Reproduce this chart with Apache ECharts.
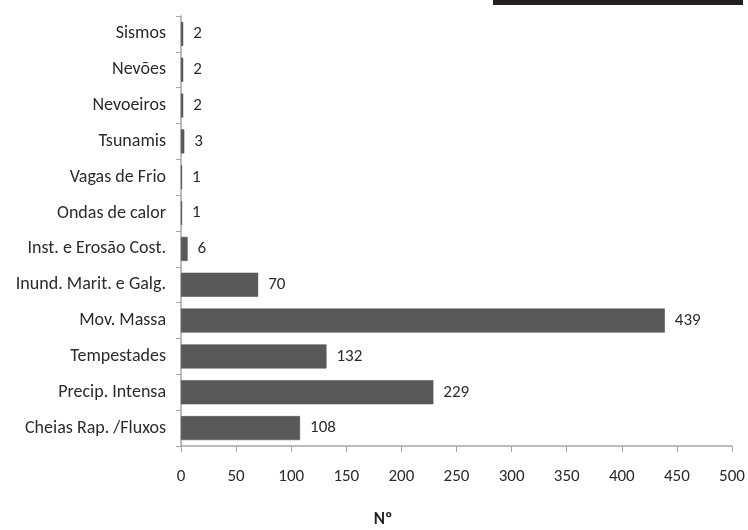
<!DOCTYPE html>
<html>
<head>
<meta charset="utf-8">
<script src="https://cdn.jsdelivr.net/npm/echarts@6/dist/echarts.min.js"></script>
<style>
  html, body { margin: 0; padding: 0; background: #fff; }
  #chart { width: 748px; height: 530px; }
</style>
</head>
<body>
<div id="chart"></div>
<script>
// Hazard categories, listed bottom to top
const categories = [
  'Cheias Rap. /Fluxos',
  'Precip. Intensa',
  'Tempestades',
  'Mov. Massa',
  'Inund. Marit. e Galg.',
  'Inst. e Erosão Cost.',
  'Ondas de calor',
  'Vagas de Frio',
  'Tsunamis',
  'Nevoeiros',
  'Nevões',
  'Sismos'
];
// Number of occurrences per category
const counts = [108, 229, 132, 439, 70, 6, 1, 1, 3, 2, 2, 2];
// Value axis tick settings
const xMin = 0;
const xMax = 500;
const xStep = 50;
const xTitle = 'Nº';

const font = 'Carlito, "Liberation Sans", sans-serif';

const chart = echarts.init(document.getElementById('chart'));
chart.setOption({
  animation: false,
  backgroundColor: '#ffffff',
  grid: { left: 181, right: 16, top: 16, bottom: 84, containLabel: false },
  xAxis: {
    type: 'value',
    min: xMin,
    max: xMax,
    interval: xStep,
    axisLine: { show: true, lineStyle: { color: '#a6a6a6', width: 1.5 } },
    axisTick: { show: true, length: 6, lineStyle: { color: '#a6a6a6' } },
    axisLabel: { color: '#2b2b2b', fontSize: 17, fontFamily: font, margin: 22 },
    splitLine: { show: false }
  },
  yAxis: {
    type: 'category',
    data: categories,
    axisLine: { show: true, lineStyle: { color: '#a6a6a6', width: 1.5 } },
    axisTick: { show: true, length: 5, lineStyle: { color: '#a6a6a6' } },
    axisLabel: { color: '#2b2b2b', fontSize: 18, fontFamily: font, margin: 15 }
  },
  series: [{
    type: 'bar',
    data: counts,
    barCategoryGap: '33%',
    itemStyle: { color: '#595959', borderColor: '#4a4a4a', borderWidth: 0.5 },
    label: {
      show: true,
      position: 'right',
      distance: 10,
      color: '#2b2b2b',
      fontSize: 17,
      fontFamily: font
    }
  }],
  graphic: [
    {
      type: 'rect',
      shape: { x: 493, y: 0, width: 250, height: 5 },
      style: { fill: '#231f20' }
    },
    {
      type: 'text',
      x: 383,
      y: 520,
      style: {
        text: xTitle,
        fill: '#222',
        font: 'bold 17px ' + font,
        textAlign: 'center',
        textVerticalAlign: 'middle'
      }
    }
  ]
});
</script>
</body>
</html>
